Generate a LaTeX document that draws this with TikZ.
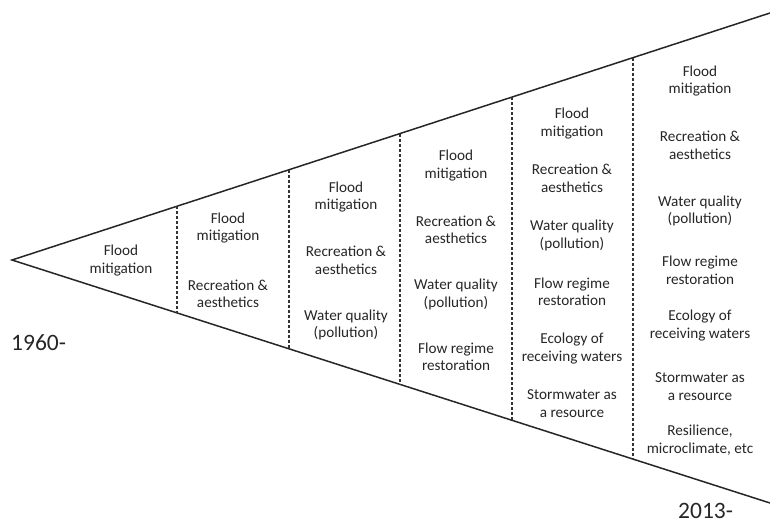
\documentclass[tikz,border=0pt]{standalone}
\usepackage{fontspec}
\setmainfont{Carlito}
\usetikzlibrary{calc}
\tikzset{item/.style={align=center, font=\fontsize{15.2}{17.5}\selectfont, text=black!85, inner sep=1pt},
         year/.style={font=\fontsize{23.5}{26}\selectfont, text=black!85, inner sep=0pt},
         divider/.style={draw=black!80, line width=1.1pt, dash pattern=on 3pt off 2pt}}

\begin{document}
\begin{tikzpicture}[x=1pt, y=-1pt]
\useasboundingbox (0,0) rectangle (770,524);
\coordinate (apex) at (12,260);
\coordinate (topend) at (770,13);
\coordinate (botend) at (770,503);
\draw[line width=1.5pt, black!85] (topend) -- (apex) -- (botend);
\draw[divider] ($(apex)!0.2177!(topend)$) -- ($(apex)!0.2177!(botend)$);
\draw[divider] ($(apex)!0.3654!(topend)$) -- ($(apex)!0.3654!(botend)$);
\draw[divider] ($(apex)!0.5119!(topend)$) -- ($(apex)!0.5119!(botend)$);
\draw[divider] ($(apex)!0.6596!(topend)$) -- ($(apex)!0.6596!(botend)$);
\draw[divider] ($(apex)!0.8193!(topend)$) -- ($(apex)!0.8193!(botend)$);
% first column
\node[item] (fa1) at (121,260.5) {Flood\\mitigation};
% second column
\node[item] (fb1) at (228,228) {Flood\\mitigation};
\node[item] (fb2) at (228,294) {Recreation \&\\aesthetics};
% third column
\node[item] (fc1) at (346,197) {Flood\\mitigation};
\node[item] (fc2) at (346,260.5) {Recreation \&\\aesthetics};
\node[item] (fc3) at (346,325) {Water quality\\(pollution)};
% fourth column
\node[item] (fd1) at (456,165.5) {Flood\\mitigation};
\node[item] (fd2) at (456,230) {Recreation \&\\aesthetics};
\node[item] (fd3) at (456,294.5) {Water quality\\(pollution)};
\node[item] (fd4) at (456,357) {Flow regime\\restoration};
% fifth column
\node[item] (fe1) at (572,123.5) {Flood\\mitigation};
\node[item] (fe2) at (572,178.5) {Recreation \&\\aesthetics};
\node[item] (fe3) at (572,235.5) {Water quality\\(pollution)};
\node[item] (fe4) at (572,292) {Flow regime\\restoration};
\node[item] (fe5) at (572,348.5) {Ecology of\\receiving waters};
\node[item] (fe6) at (572,403.5) {Stormwater as\\a resource};
% sixth column
\node[item] (ff1) at (700,81) {Flood\\mitigation};
\node[item] (ff2) at (700,145.5) {Recreation \&\\aesthetics};
\node[item] (ff3) at (700,211) {Water quality\\(pollution)};
\node[item] (ff4) at (700,270.5) {Flow regime\\restoration};
\node[item] (ff5) at (700,325.5) {Ecology of\\receiving waters};
\node[item] (ff6) at (700,386.5) {Stormwater as\\a resource};
\node[item] (ff7) at (700,440) {Resilience,\\microclimate, etc};
% years
\node[year, anchor=west] (start) at (11,343) {1960-};
\node[year, anchor=west] (stop) at (678,511) {2013-};
\end{tikzpicture}
\end{document}
